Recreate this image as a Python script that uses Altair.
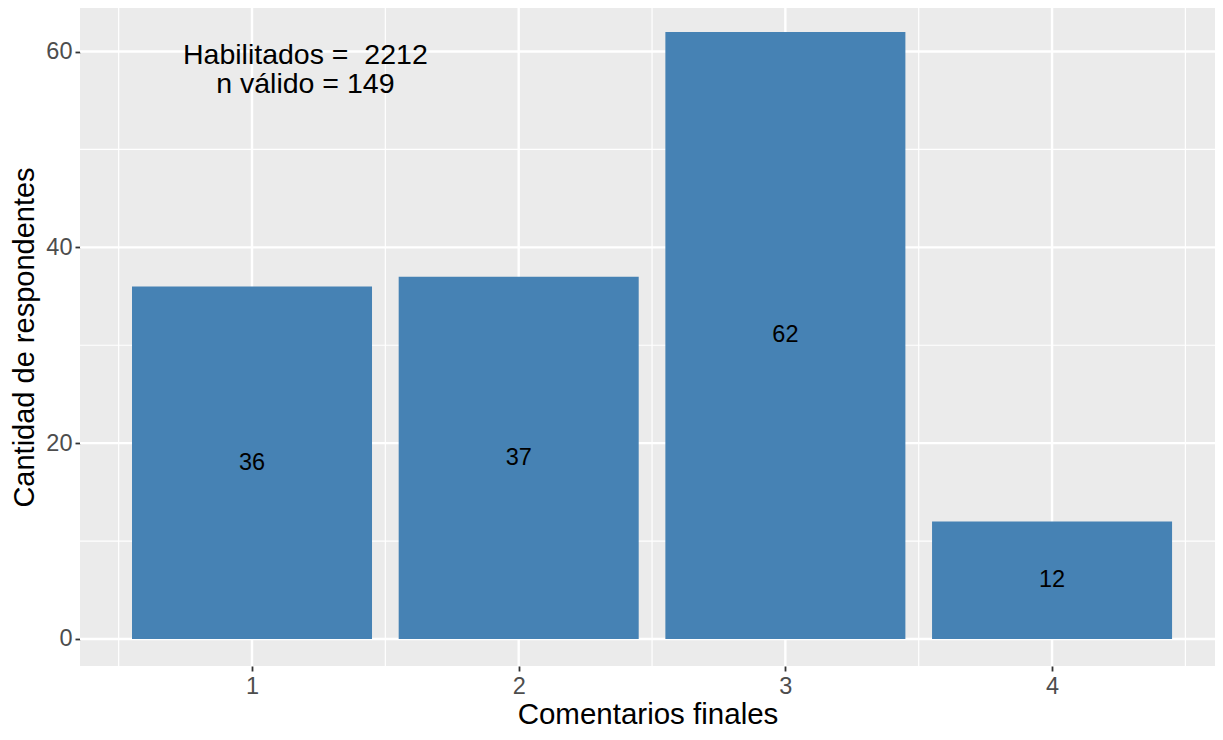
import altair as alt
import pandas as pd

categories = [1, 2, 3, 4]
counts = [36, 37, 62, 12]
y_major = [0, 20, 40, 60]
y_minor = [10, 30, 50]
x_minor = [0.5, 1.5, 2.5, 3.5, 4.5]
annotation_text = ["Habilitados =\u00a0 2212", "n válido = 149"]
annotation_x = [1.2]
annotation_y = [59.7]

FONT = "Liberation Sans"
xs = alt.Scale(domain=[0.355, 4.611], nice=False, zero=False)
ys = alt.Scale(domain=[-2.76, 64.45], nice=False, zero=False)

xa = alt.Axis(values=categories, format="d", grid=False, domain=False,
              tickColor="#333333", tickSize=5, tickWidth=1.8,
              labelColor="#4D4D4D", labelFontSize=23.5, labelFont=FONT,
              labelPadding=3, titleFont=FONT, titleFontSize=29.5,
              titleFontWeight="normal", titleColor="black", titlePadding=3)
ya = alt.Axis(values=y_major, format="d", grid=False, domain=False,
              tickColor="#333333", tickSize=5, tickWidth=1.8,
              labelColor="#4D4D4D", labelFontSize=23.5, labelFont=FONT,
              labelPadding=3, titleFont=FONT, titleFontSize=29,
              titleFontWeight="normal", titleColor="black", titlePadding=6)
XT = "Comentarios finales"
YT = "Cantidad de respondentes"

bars_df = pd.DataFrame({"cat": categories, "n": counts})
ymaj_df = pd.DataFrame({"v": y_major})
ymin_df = pd.DataFrame({"v": y_minor})
xmin_df = pd.DataFrame({"v": x_minor})
xmaj_df = pd.DataFrame({"v": categories})
ann_df = pd.DataFrame({"x": annotation_x, "y": annotation_y, "t": [annotation_text]})

ymin_rule = alt.Chart(ymin_df).mark_rule(color="white", strokeWidth=1.2).encode(
    y=alt.Y("v:Q", scale=ys, axis=ya, title=YT))
xmin_rule = alt.Chart(xmin_df).mark_rule(color="white", strokeWidth=1.2).encode(
    x=alt.X("v:Q", scale=xs, axis=xa, title=XT))
ymaj_rule = alt.Chart(ymaj_df).mark_rule(color="white", strokeWidth=2.4).encode(
    y=alt.Y("v:Q", scale=ys, axis=ya, title=YT))
xmaj_rule = alt.Chart(xmaj_df).mark_rule(color="white", strokeWidth=2.4).encode(
    x=alt.X("v:Q", scale=xs, axis=xa, title=XT))

bars = alt.Chart(bars_df).transform_calculate(
    x0="datum.cat - 0.45", x1="datum.cat + 0.45"
).mark_rect(color="#4682B4").encode(
    x=alt.X("x0:Q", scale=xs, axis=xa, title=XT),
    x2="x1:Q",
    y=alt.Y("n:Q", scale=ys, axis=ya, title=YT),
    y2=alt.Y2(datum=0),
)

labels = alt.Chart(bars_df).transform_calculate(
    half="datum.n / 2"
).mark_text(font=FONT, fontSize=23.5, color="black", baseline="middle", align="center").encode(
    x=alt.X("cat:Q", scale=xs, axis=xa, title=XT),
    y=alt.Y("half:Q", scale=ys, axis=ya, title=YT),
    text="n:Q",
)

ann = alt.Chart(ann_df).mark_text(font=FONT, fontSize=28.5, color="black", baseline="middle",
                                  align="center", lineHeight=29).encode(
    x=alt.X("x:Q", scale=xs, axis=xa, title=XT),
    y=alt.Y("y:Q", scale=ys, axis=ya, title=YT),
    text="t",
)

chart = alt.layer(ymin_rule, xmin_rule, ymaj_rule, xmaj_rule, bars, labels, ann).properties(
    width=1135, height=658,
    padding={"left": 72, "top": 0, "right": 0, "bottom": 63},
    autosize=alt.AutoSizeParams(type="none"),
).configure_view(fill="#EBEBEB", stroke=None)

chart.save("out.html", embed_options={"renderer": "svg", "actions": False})
